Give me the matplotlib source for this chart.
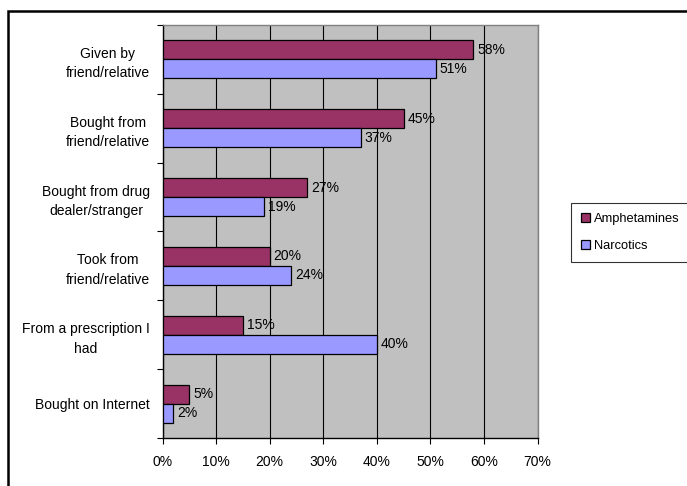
import numpy as np
import matplotlib
matplotlib.use("Agg")
import matplotlib.pyplot as plt
from matplotlib.patches import Rectangle

plt.rcParams['font.family'] = ['Liberation Sans', 'DejaVu Sans']

# Data (top to bottom as in the chart)
categories = ["Given by\nfriend/relative", "Bought from\nfriend/relative",
              "Bought from drug\ndealer/stranger", "Took from\nfriend/relative",
              "From a prescription I\nhad", "Bought on Internet"]
amphetamines = [58, 45, 27, 20, 15, 5]
narcotics = [51, 37, 19, 24, 40, 2]
xticks = [0, 10, 20, 30, 40, 50, 60, 70]

fig = plt.figure(figsize=(6.87, 4.86), dpi=100)
ax = fig.add_axes([162.5/687, 1-438/486, 375/687, 413/486])

# outer chart frame (cut off at right and bottom)
fig.patches.append(Rectangle((8/687, -0.1), 1.2, 1-11/486+0.1, transform=fig.transFigure,
                             fill=False, edgecolor="black", linewidth=1.8))

n = len(categories)
y = np.arange(n)[::-1] + 0.5
h = 0.277

ax.set_facecolor("#C0C0C0")
ax.barh(y + h/2, amphetamines, height=h, color="#993366", edgecolor="black", linewidth=0.9,
        label="Amphetamines", zorder=3)
ax.barh(y - h/2, narcotics, height=h, color="#9999FF", edgecolor="black", linewidth=0.9,
        label="Narcotics", zorder=3)

for yi, a, nv in zip(y, amphetamines, narcotics):
    ax.text(a + 0.7, yi + h/2, f"{a}%", va="center", ha="left", fontsize=10, zorder=4)
    ax.text(nv + 0.7, yi - h/2, f"{nv}%", va="center", ha="left", fontsize=10, zorder=4)

ax.set_xlim(0, 70)
ax.set_ylim(0, n)
ax.set_xticks(xticks)
ax.set_xticklabels([f"{t}%" for t in xticks], fontsize=10)
ax.set_yticks(np.arange(n + 1), minor=False)
ax.set_yticklabels([])
ax.set_yticks(y, minor=True)
ax.set_yticklabels(categories, minor=True, fontsize=10, ha="right",
                   multialignment="center", linespacing=1.5)
ax.tick_params(axis="y", which="minor", length=0, pad=9)
ax.tick_params(axis="y", which="major", length=4, direction="out", width=0.8)
ax.tick_params(axis="x", length=4, direction="out", width=0.8, pad=8)
ax.xaxis.grid(True, color="black", linewidth=0.8, zorder=1)
ax.set_axisbelow(True)

for s in ["top", "right"]:
    ax.spines[s].set_color("#808080")
    ax.spines[s].set_linewidth(1.0)
for s in ["left", "bottom"]:
    ax.spines[s].set_color("black")
    ax.spines[s].set_linewidth(1.0)

leg = ax.legend(loc="upper left", bbox_to_anchor=(571/687, 1-203/486), bbox_transform=fig.transFigure,
                fontsize=9.3, frameon=True, fancybox=False, edgecolor="black",
                handlelength=0.7, handleheight=0.7, handletextpad=0.25, borderpad=0.8,
                labelspacing=1.1, borderaxespad=0)
leg.get_frame().set_linewidth(0.8)

fig.savefig("out.png", dpi=100)
